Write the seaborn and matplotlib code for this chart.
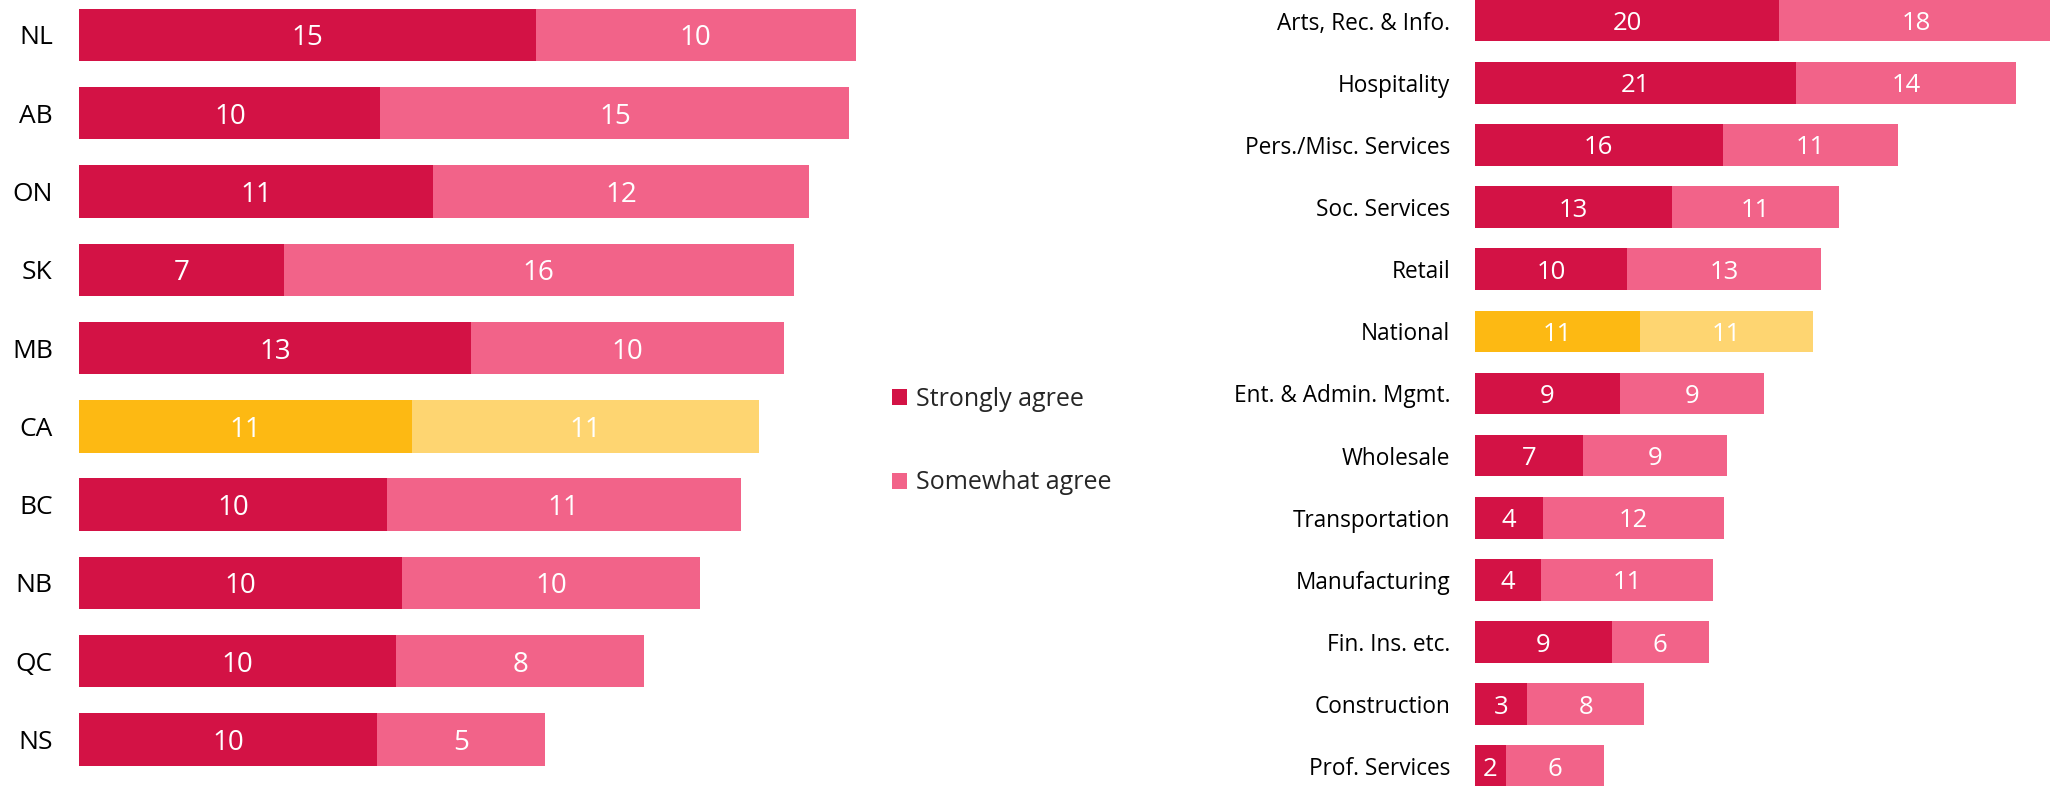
import matplotlib
matplotlib.use("Agg")
import matplotlib.pyplot as plt
import seaborn as sns
import pandas as pd
from matplotlib.patches import Patch

sns.set_theme(style="white")
plt.rcParams['font.family'] = ['Open Sans', 'DejaVu Sans']

# ---- data ----
prov = ["NL", "AB", "ON", "SK", "MB", "CA", "BC", "NB", "QC", "NS"]
prov_strong = [14.7, 9.7, 11.4, 6.6, 12.6, 10.7, 9.9, 10.4, 10.2, 9.6]
prov_some = [10.3, 15.1, 12.1, 16.4, 10.1, 11.2, 11.4, 9.6, 8.0, 5.4]

ind = ["Arts, Rec. & Info.", "Hospitality", "Pers./Misc. Services", "Soc. Services",
       "Retail", "National", "Ent. & Admin. Mgmt.", "Wholesale", "Transportation",
       "Manufacturing", "Fin. Ins. etc.", "Construction", "Prof. Services"]
ind_strong = [19.8, 20.9, 16.1, 12.8, 9.9, 10.7, 9.4, 7.0, 4.4, 4.3, 8.9, 3.4, 2.0]
ind_some = [17.8, 14.3, 11.4, 10.9, 12.6, 11.3, 9.4, 9.4, 11.8, 11.2, 6.3, 7.6, 6.4]

series_labels = ["Strongly agree", "Somewhat agree"]
highlight = {"CA", "National"}

C_STRONG = "#D31245"
C_SOME = "#F26389"
C_HSTRONG = "#FDB913"
C_HSOME = "#FED571"

W, H = 2050, 786
fig = plt.figure(figsize=(W / 100, H / 100), dpi=100)


def panel(ax, cats, strong, some, fs_tick, fs_num, pad):
    df = pd.DataFrame({"cat": cats, "strong": strong, "some": some})
    df["total"] = df["strong"] + df["some"]
    pal_tot = [C_HSOME if c in highlight else C_SOME for c in cats]
    pal_str = [C_HSTRONG if c in highlight else C_STRONG for c in cats]
    sns.barplot(data=df, x="total", y="cat", hue="cat", palette=pal_tot, order=cats,
                hue_order=cats, legend=False, width=0.67, saturation=1, ax=ax,
                orient="h", linewidth=0)
    sns.barplot(data=df, x="strong", y="cat", hue="cat", palette=pal_str, order=cats,
                hue_order=cats, legend=False, width=0.67, saturation=1, ax=ax,
                orient="h", linewidth=0)
    for i, r in df.iterrows():
        ax.text(r["strong"] / 2, i, f"{round(r['strong']):d}", ha="center",
                va="center_baseline", color="white", fontsize=fs_num)
        ax.text(r["strong"] + r["some"] / 2, i, f"{round(r['some']):d}", ha="center",
                va="center_baseline", color="white", fontsize=fs_num)
    for s in ax.spines.values():
        s.set_visible(False)
    ax.set_xlabel("")
    ax.set_ylabel("")
    ax.set_xticks([])
    ax.tick_params(axis="y", length=0, pad=pad, labelsize=fs_tick, labelcolor="black")


# left panel
axL = fig.add_axes([79.2 / W, 0, 792 / W, 1])
panel(axL, prov, prov_strong, prov_some, 19, 20, 19)
axL.set_xlim(0, 25.5)
axL.set_ylim(9.594, -0.447)

# right panel
axR = fig.add_axes([1475 / W, 0, 575 / W, 1])
panel(axR, ind, ind_strong, ind_some, 16.3, 18.5, 18)
axR.set_xlim(0, 37.39)
axR.set_ylim(12.317, -0.3325)

# legend
handles = [Patch(facecolor=C_STRONG, edgecolor="none"), Patch(facecolor=C_SOME, edgecolor="none")]
fig.legend(handles, series_labels, loc="center left", bbox_to_anchor=(869 / W, 1 - 441 / H),
           frameon=False, fontsize=18, handlelength=0.6, handleheight=0.6,
           handletextpad=0.4, labelspacing=2.35)

fig.savefig("out.png", dpi=100)
